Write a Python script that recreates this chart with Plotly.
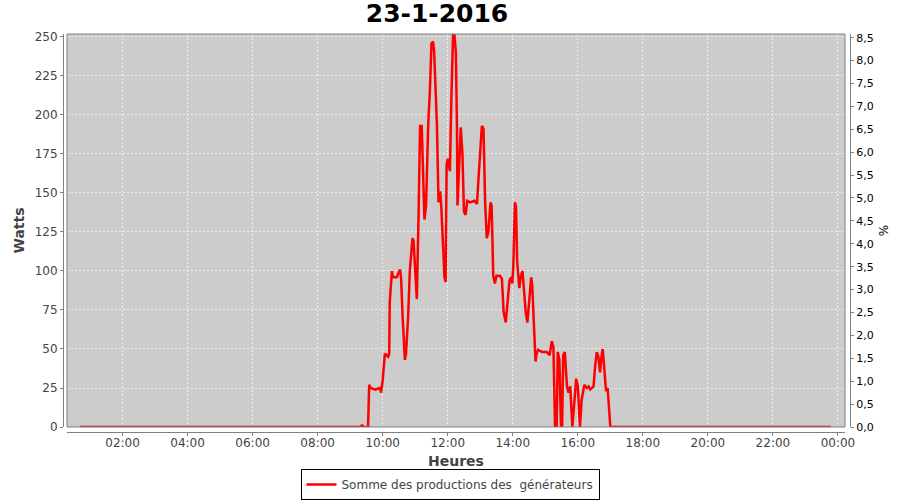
import plotly.graph_objects as go

DAY = "2016-01-23"
title_text = "23-1-2016"
series_name = "Somme des productions des\u00a0 générateurs"

# time of day (HH:MM) and power (W)
times = [
    "00:41", "09:20", "09:22", "09:24", "09:33", "09:35", "09:38", "09:46", "09:55", "09:57",
    "10:00", "10:04", "10:10", "10:12", "10:13", "10:17", "10:19", "10:26", "10:32", "10:34",
    "10:37", "10:41", "10:43", "10:47", "10:50", "10:55", "10:57", "11:03", "11:06", "11:09",
    "11:12", "11:15", "11:17", "11:20", "11:24", "11:27", "11:30", "11:33", "11:35", "11:40",
    "11:43", "11:46", "11:48", "11:51", "11:54", "11:56", "11:58", "12:00", "12:04", "12:07",
    "12:10", "12:12", "12:15", "12:17", "12:18", "12:24", "12:27", "12:30", "12:33", "12:36",
    "12:41", "12:49", "12:54", "12:56", "13:00", "13:03", "13:06", "13:09", "13:12", "13:15",
    "13:19", "13:21", "13:24", "13:27", "13:30", "13:36", "13:40", "13:43", "13:47", "13:50",
    "13:54", "13:57", "13:59", "14:01", "14:04", "14:06", "14:08", "14:12", "14:15", "14:18",
    "14:21", "14:24", "14:27", "14:30", "14:34", "14:36", "14:38", "14:40", "14:42", "14:44",
    "14:47", "14:54", "15:03", "15:08", "15:12", "15:15", "15:18", "15:21", "15:23", "15:26",
    "15:29", "15:31", "15:33", "15:36", "15:40", "15:43", "15:46", "15:50", "15:54", "15:57",
    "16:00", "16:04", "16:07", "16:12", "16:17", "16:20", "16:23", "16:29", "16:32", "16:35",
    "16:38", "16:41", "16:44", "16:46", "16:49", "16:52", "16:55", "16:58", "17:00", "23:47",
]
watts = [
    0, 0, 1.5, 0, 0, 27, 25, 24, 25, 22,
    30, 47, 45, 47, 80, 100, 96, 96, 101, 95,
    69, 43, 47, 71, 100, 121, 119, 82, 133, 193,
    193, 144, 133, 142, 194, 215, 246, 247, 240, 194,
    144, 151, 142, 119, 96, 93, 168, 172, 164, 215,
    253, 253, 240, 193, 142, 192, 176, 138, 136, 145,
    144, 145, 143, 155, 176, 193, 191, 144, 121, 125,
    144, 142, 97, 92, 97, 97, 95, 74, 67, 78,
    94, 96, 92, 103, 144, 141, 107, 89, 97, 100,
    88, 73, 67, 79, 96, 90, 71, 50, 42, 47,
    49.5, 48, 48, 46, 55, 51, 0, 0, 48, 43,
    0, 0, 46, 48, 26, 22, 26, 0, 22, 31,
    26, 0, 17, 27, 25, 26, 24, 26, 39, 48,
    45, 35, 46, 50, 37, 23, 25, 13, 0, 0,
]

x_tick_hours = ["02:00", "04:00", "06:00", "08:00", "10:00", "12:00",
                "14:00", "16:00", "18:00", "20:00", "22:00", "00:00"]
pct_ticks = [0.0, 0.5, 1.0, 1.5, 2.0, 2.5, 3.0, 3.5, 4.0, 4.5,
             5.0, 5.5, 6.0, 6.5, 7.0, 7.5, 8.0, 8.5]
watt_ticks = [0, 25, 50, 75, 100, 125, 150, 175, 200, 225, 250]

x_vals = [f"{DAY} {t}" for t in times]
tick_vals = [f"{DAY} {t}" if t != "00:00" else "2016-01-24 00:00" for t in x_tick_hours]

FONT = "DejaVu Sans"
GRAY = "#808080"
DARK = "#444444"
GRID = "rgba(255,255,255,0.65)"

W, H = 900, 500
# page-coordinate frame of the axes
P_L, P_R, P_T, P_B = 63, 850, 34, 432
ml, mr, mt, mb = P_L, W - P_R, P_T, H - P_B
pw = P_R - P_L
ph = P_B - P_T

fig = go.Figure()
fig.add_trace(go.Scatter(
    x=x_vals, y=watts, mode="lines", name=series_name,
    line=dict(color="#FF0000", width=2.5),
    xaxis="x", yaxis="y",
))
# empty trace so that the right-hand % axis is drawn
fig.add_trace(go.Scatter(
    x=[x_vals[0]], y=[None], mode="lines", showlegend=False,
    hoverinfo="skip", xaxis="x", yaxis="y2",
))

fig.update_layout(
    width=W, height=H,
    margin=dict(l=ml, r=mr, t=mt, b=mb, pad=0),
    paper_bgcolor="white",
    plot_bgcolor="#CCCCCC",
    separators=", ",
    font=dict(family=FONT, size=12, color=DARK),
    title=dict(text=f"<b>{title_text}</b>", x=437 / W, xref="container",
               xanchor="center", y=1 - 13 / H, yanchor="middle",
               font=dict(family=FONT, size=25, color="black")),
    showlegend=True,
    legend=dict(
        orientation="h", xref="container", x=450 / W, xanchor="center",
        yref="container", y=(H - 469) / H, yanchor="top",
        bordercolor="black", borderwidth=1, bgcolor="white",
        font=dict(family=FONT, size=12, color=DARK),
        itemwidth=30, tracegroupgap=0,
    ),
    xaxis=dict(
        type="date",
        domain=[(67 - P_L) / pw, (845 - P_L) / pw],
        anchor="free", position=0,
        range=["2016-01-23 00:17:30", "2016-01-24 00:13:00"],
        tickvals=tick_vals, ticktext=x_tick_hours,
        ticks="outside", ticklen=3, tickcolor=GRAY,
        ticklabelstandoff=-3,
        showline=True, linecolor=GRAY, linewidth=1,
        showgrid=True, gridcolor=GRID, gridwidth=1, griddash="2px,2px",
        zeroline=False,
        tickfont=dict(family=FONT, size=12, color=DARK),
        title=dict(text="<b>Heures</b>", standoff=6,
                   font=dict(family=FONT, size=14, color=DARK)),
        automargin=False,
    ),
    yaxis=dict(
        domain=[(P_B - 427) / ph, 1],
        anchor="free", position=0,
        range=[0, 251.9],
        tickvals=watt_ticks,
        ticks="outside", ticklen=3, tickcolor=GRAY,
        showline=True, linecolor=GRAY, linewidth=1,
        showgrid=True, gridcolor=GRID, gridwidth=1, griddash="2px,2px",
        zeroline=False,
        tickfont=dict(family=FONT, size=12, color=DARK),
        title=dict(text="<b>Watts</b>", standoff=5,
                   font=dict(family=FONT, size=14, color=DARK)),
        automargin=False,
    ),
    yaxis2=dict(
        domain=[(P_B - 427) / ph, 1],
        anchor="free", position=1, overlaying="y", side="right",
        range=[0, 8.58],
        tickvals=pct_ticks, tickformat=".1f",
        ticks="outside", ticklen=3, tickcolor=GRAY,
        showline=True, linecolor=GRAY, linewidth=1,
        showgrid=False, zeroline=False,
        tickfont=dict(family=FONT, size=11, color="black"),
        title=dict(text="%", standoff=6,
                   font=dict(family=FONT, size=12, color="black")),
        automargin=False,
    ),
    shapes=[dict(type="rect", xref="x domain", yref="y domain",
                 x0=0, x1=1, y0=0, y1=1,
                 line=dict(color=GRAY, width=1), fillcolor="rgba(0,0,0,0)",
                 layer="above")],
)

# remove the browser's default 8px body margin so the figure sits at the page origin
fig.write_html("out.html", config={"displayModeBar": False},
               post_script="document.body.style.margin='0';")
